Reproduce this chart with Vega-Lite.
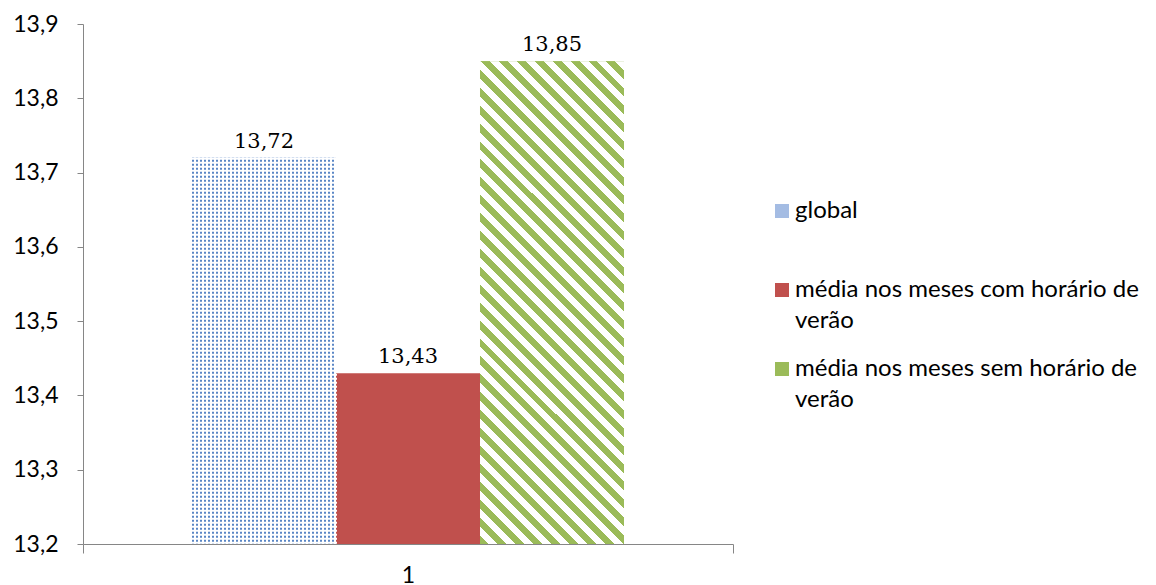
{
  "$schema": "https://vega.github.io/schema/vega-lite/v6.json",
  "width": 650,
  "height": 520,
  "autosize": {"type": "none"},
  "padding": {"left": 83, "top": 24, "right": 423, "bottom": 41},
  "background": "white",
  "config": {
    "view": {"stroke": null},
    "style": {"guide-label": {"lineHeight": 31}},
    "locale": {"number": {"decimal": ",", "thousands": ".", "grouping": [3], "currency": ["", " €"]}}
  },
  "data": {
    "values": [
      {"grupo": "1", "serie": "global", "valor": 13.72},
      {"grupo": "1", "serie": "média nos meses com horário de verão", "valor": 13.43},
      {"grupo": "1", "serie": "média nos meses sem horário de verão", "valor": 13.85}
    ]
  },
  "encoding": {
    "x": {
      "field": "grupo",
      "type": "nominal",
      "scale": {"paddingInner": 0, "paddingOuter": 0},
      "axis": {
        "title": null,
        "labelAngle": 0,
        "tickBand": "extent",
        "domainColor": "#868686",
        "tickColor": "#868686",
        "tickSize": 9,
        "labelPadding": 11,
        "labelFont": "Lato",
        "labelFontSize": 23,
        "labelColor": "black",
        "labelBaseline": "top"
      }
    },
    "xOffset": {
      "field": "serie",
      "type": "nominal",
      "scale": {
        "domain": ["global", "média nos meses com horário de verão", "média nos meses sem horário de verão"],
        "paddingInner": 0,
        "paddingOuter": 0.757
      }
    },
    "y": {
      "field": "valor",
      "type": "quantitative",
      "stack": null,
      "scale": {"domain": [13.2, 13.9], "zero": false, "nice": false},
      "axis": {
        "title": null,
        "values": [13.2, 13.3, 13.4, 13.5, 13.6, 13.7, 13.8, 13.9],
        "format": ".1f",
        "grid": false,
        "domainColor": "#868686",
        "tickColor": "#868686",
        "tickSize": 6,
        "labelPadding": 19,
        "labelFont": "Lato",
        "labelFontSize": 23,
        "labelColor": "black",
        "labelFlush": false,
        "labelOverlap": false
      }
    }
  },
  "layer": [
    {
      "mark": {"type": "bar"},
      "encoding": {
        "y2": {"datum": 13.2},
        "color": {
          "field": "serie",
          "type": "nominal",
          "scale": {
            "domain": ["global", "média nos meses com horário de verão", "média nos meses sem horário de verão"],
            "range": ["#a4bce3", "#c0504d", "#9bbb59"]
          },
          "legend": {
            "title": null,
            "orient": "none",
            "legendX": 687,
            "legendY": 175,
            "direction": "vertical",
            "symbolType": "square",
            "symbolSize": 196,
            "symbolStrokeWidth": 0,
            "labelFont": "Lato",
            "labelFontSize": 24,
            "labelColor": "black",
            "labelLimit": 400,
            "labelOffset": 1,
            "labelBaseline": "middle",
            "rowPadding": 24,
            "gridAlign": "all",
            "padding": 0,
            "labelExpr": "split(replace(datum.label, 'de verão', 'de|verão'), '|')",
            "encode": {"labels": {"lineHeight": {"value": 31}}}
          }
        }
      }
    },
    {
      "transform": [{"filter": "datum.serie === 'global'"}],
      "mark": {
        "type": "bar",
        "fill": {
          "gradient": "linear", "x1": 0, "y1": 0, "x2": 1, "y2": 0,
          "stops": [
            {"offset": 0, "color": "#5a86c5"}, {"offset": 0.0139, "color": "#5a86c5"}, {"offset": 0.0139, "color": "#ffffff"}, {"offset": 0.0278, "color": "#ffffff"},
            {"offset": 0.0278, "color": "#5a86c5"}, {"offset": 0.0417, "color": "#5a86c5"}, {"offset": 0.0417, "color": "#ffffff"}, {"offset": 0.0556, "color": "#ffffff"},
            {"offset": 0.0556, "color": "#5a86c5"}, {"offset": 0.0694, "color": "#5a86c5"}, {"offset": 0.0694, "color": "#ffffff"}, {"offset": 0.0833, "color": "#ffffff"},
            {"offset": 0.0833, "color": "#5a86c5"}, {"offset": 0.0972, "color": "#5a86c5"}, {"offset": 0.0972, "color": "#ffffff"}, {"offset": 0.1111, "color": "#ffffff"},
            {"offset": 0.1111, "color": "#5a86c5"}, {"offset": 0.125, "color": "#5a86c5"}, {"offset": 0.125, "color": "#ffffff"}, {"offset": 0.1389, "color": "#ffffff"},
            {"offset": 0.1389, "color": "#5a86c5"}, {"offset": 0.1528, "color": "#5a86c5"}, {"offset": 0.1528, "color": "#ffffff"}, {"offset": 0.1667, "color": "#ffffff"},
            {"offset": 0.1667, "color": "#5a86c5"}, {"offset": 0.1806, "color": "#5a86c5"}, {"offset": 0.1806, "color": "#ffffff"}, {"offset": 0.1944, "color": "#ffffff"},
            {"offset": 0.1944, "color": "#5a86c5"}, {"offset": 0.2083, "color": "#5a86c5"}, {"offset": 0.2083, "color": "#ffffff"}, {"offset": 0.2222, "color": "#ffffff"},
            {"offset": 0.2222, "color": "#5a86c5"}, {"offset": 0.2361, "color": "#5a86c5"}, {"offset": 0.2361, "color": "#ffffff"}, {"offset": 0.25, "color": "#ffffff"},
            {"offset": 0.25, "color": "#5a86c5"}, {"offset": 0.2639, "color": "#5a86c5"}, {"offset": 0.2639, "color": "#ffffff"}, {"offset": 0.2778, "color": "#ffffff"},
            {"offset": 0.2778, "color": "#5a86c5"}, {"offset": 0.2917, "color": "#5a86c5"}, {"offset": 0.2917, "color": "#ffffff"}, {"offset": 0.3056, "color": "#ffffff"},
            {"offset": 0.3056, "color": "#5a86c5"}, {"offset": 0.3194, "color": "#5a86c5"}, {"offset": 0.3194, "color": "#ffffff"}, {"offset": 0.3333, "color": "#ffffff"},
            {"offset": 0.3333, "color": "#5a86c5"}, {"offset": 0.3472, "color": "#5a86c5"}, {"offset": 0.3472, "color": "#ffffff"}, {"offset": 0.3611, "color": "#ffffff"},
            {"offset": 0.3611, "color": "#5a86c5"}, {"offset": 0.375, "color": "#5a86c5"}, {"offset": 0.375, "color": "#ffffff"}, {"offset": 0.3889, "color": "#ffffff"},
            {"offset": 0.3889, "color": "#5a86c5"}, {"offset": 0.4028, "color": "#5a86c5"}, {"offset": 0.4028, "color": "#ffffff"}, {"offset": 0.4167, "color": "#ffffff"},
            {"offset": 0.4167, "color": "#5a86c5"}, {"offset": 0.4306, "color": "#5a86c5"}, {"offset": 0.4306, "color": "#ffffff"}, {"offset": 0.4444, "color": "#ffffff"},
            {"offset": 0.4444, "color": "#5a86c5"}, {"offset": 0.4583, "color": "#5a86c5"}, {"offset": 0.4583, "color": "#ffffff"}, {"offset": 0.4722, "color": "#ffffff"},
            {"offset": 0.4722, "color": "#5a86c5"}, {"offset": 0.4861, "color": "#5a86c5"}, {"offset": 0.4861, "color": "#ffffff"}, {"offset": 0.5, "color": "#ffffff"},
            {"offset": 0.5, "color": "#5a86c5"}, {"offset": 0.5139, "color": "#5a86c5"}, {"offset": 0.5139, "color": "#ffffff"}, {"offset": 0.5278, "color": "#ffffff"},
            {"offset": 0.5278, "color": "#5a86c5"}, {"offset": 0.5417, "color": "#5a86c5"}, {"offset": 0.5417, "color": "#ffffff"}, {"offset": 0.5556, "color": "#ffffff"},
            {"offset": 0.5556, "color": "#5a86c5"}, {"offset": 0.5694, "color": "#5a86c5"}, {"offset": 0.5694, "color": "#ffffff"}, {"offset": 0.5833, "color": "#ffffff"},
            {"offset": 0.5833, "color": "#5a86c5"}, {"offset": 0.5972, "color": "#5a86c5"}, {"offset": 0.5972, "color": "#ffffff"}, {"offset": 0.6111, "color": "#ffffff"},
            {"offset": 0.6111, "color": "#5a86c5"}, {"offset": 0.625, "color": "#5a86c5"}, {"offset": 0.625, "color": "#ffffff"}, {"offset": 0.6389, "color": "#ffffff"},
            {"offset": 0.6389, "color": "#5a86c5"}, {"offset": 0.6528, "color": "#5a86c5"}, {"offset": 0.6528, "color": "#ffffff"}, {"offset": 0.6667, "color": "#ffffff"},
            {"offset": 0.6667, "color": "#5a86c5"}, {"offset": 0.6806, "color": "#5a86c5"}, {"offset": 0.6806, "color": "#ffffff"}, {"offset": 0.6944, "color": "#ffffff"},
            {"offset": 0.6944, "color": "#5a86c5"}, {"offset": 0.7083, "color": "#5a86c5"}, {"offset": 0.7083, "color": "#ffffff"}, {"offset": 0.7222, "color": "#ffffff"},
            {"offset": 0.7222, "color": "#5a86c5"}, {"offset": 0.7361, "color": "#5a86c5"}, {"offset": 0.7361, "color": "#ffffff"}, {"offset": 0.75, "color": "#ffffff"},
            {"offset": 0.75, "color": "#5a86c5"}, {"offset": 0.7639, "color": "#5a86c5"}, {"offset": 0.7639, "color": "#ffffff"}, {"offset": 0.7778, "color": "#ffffff"},
            {"offset": 0.7778, "color": "#5a86c5"}, {"offset": 0.7917, "color": "#5a86c5"}, {"offset": 0.7917, "color": "#ffffff"}, {"offset": 0.8056, "color": "#ffffff"},
            {"offset": 0.8056, "color": "#5a86c5"}, {"offset": 0.8194, "color": "#5a86c5"}, {"offset": 0.8194, "color": "#ffffff"}, {"offset": 0.8333, "color": "#ffffff"},
            {"offset": 0.8333, "color": "#5a86c5"}, {"offset": 0.8472, "color": "#5a86c5"}, {"offset": 0.8472, "color": "#ffffff"}, {"offset": 0.8611, "color": "#ffffff"},
            {"offset": 0.8611, "color": "#5a86c5"}, {"offset": 0.875, "color": "#5a86c5"}, {"offset": 0.875, "color": "#ffffff"}, {"offset": 0.8889, "color": "#ffffff"},
            {"offset": 0.8889, "color": "#5a86c5"}, {"offset": 0.9028, "color": "#5a86c5"}, {"offset": 0.9028, "color": "#ffffff"}, {"offset": 0.9167, "color": "#ffffff"},
            {"offset": 0.9167, "color": "#5a86c5"}, {"offset": 0.9306, "color": "#5a86c5"}, {"offset": 0.9306, "color": "#ffffff"}, {"offset": 0.9444, "color": "#ffffff"},
            {"offset": 0.9444, "color": "#5a86c5"}, {"offset": 0.9583, "color": "#5a86c5"}, {"offset": 0.9583, "color": "#ffffff"}, {"offset": 0.9722, "color": "#ffffff"},
            {"offset": 0.9722, "color": "#5a86c5"}, {"offset": 0.9861, "color": "#5a86c5"}, {"offset": 0.9861, "color": "#ffffff"}, {"offset": 1, "color": "#ffffff"}
          ]
        }
      },
      "encoding": {"y2": {"datum": 13.2}}
    },
    {
      "transform": [{"filter": "datum.serie === 'global'"}],
      "mark": {"type": "rule", "stroke": "#ffffff", "strokeWidth": 146, "strokeDash": [2, 2], "strokeCap": "butt"},
      "encoding": {"y2": {"datum": 13.2}}
    },
    {
      "transform": [{"filter": "datum.serie === 'média nos meses sem horário de verão'"}],
      "mark": {
        "type": "bar",
        "fill": {
          "gradient": "linear", "x1": 0, "y1": 1, "x2": 0.3554, "y2": -0.1922,
          "stops": [
            {"offset": 0, "color": "#9bbb59"}, {"offset": 0.0143, "color": "#9bbb59"}, {"offset": 0.0143, "color": "#ffffff"}, {"offset": 0.0286, "color": "#ffffff"},
            {"offset": 0.0286, "color": "#9bbb59"}, {"offset": 0.0429, "color": "#9bbb59"}, {"offset": 0.0429, "color": "#ffffff"}, {"offset": 0.0571, "color": "#ffffff"},
            {"offset": 0.0571, "color": "#9bbb59"}, {"offset": 0.0714, "color": "#9bbb59"}, {"offset": 0.0714, "color": "#ffffff"}, {"offset": 0.0857, "color": "#ffffff"},
            {"offset": 0.0857, "color": "#9bbb59"}, {"offset": 0.1, "color": "#9bbb59"}, {"offset": 0.1, "color": "#ffffff"}, {"offset": 0.1143, "color": "#ffffff"},
            {"offset": 0.1143, "color": "#9bbb59"}, {"offset": 0.1286, "color": "#9bbb59"}, {"offset": 0.1286, "color": "#ffffff"}, {"offset": 0.1429, "color": "#ffffff"},
            {"offset": 0.1429, "color": "#9bbb59"}, {"offset": 0.1571, "color": "#9bbb59"}, {"offset": 0.1571, "color": "#ffffff"}, {"offset": 0.1714, "color": "#ffffff"},
            {"offset": 0.1714, "color": "#9bbb59"}, {"offset": 0.1857, "color": "#9bbb59"}, {"offset": 0.1857, "color": "#ffffff"}, {"offset": 0.2, "color": "#ffffff"},
            {"offset": 0.2, "color": "#9bbb59"}, {"offset": 0.2143, "color": "#9bbb59"}, {"offset": 0.2143, "color": "#ffffff"}, {"offset": 0.2286, "color": "#ffffff"},
            {"offset": 0.2286, "color": "#9bbb59"}, {"offset": 0.2429, "color": "#9bbb59"}, {"offset": 0.2429, "color": "#ffffff"}, {"offset": 0.2571, "color": "#ffffff"},
            {"offset": 0.2571, "color": "#9bbb59"}, {"offset": 0.2714, "color": "#9bbb59"}, {"offset": 0.2714, "color": "#ffffff"}, {"offset": 0.2857, "color": "#ffffff"},
            {"offset": 0.2857, "color": "#9bbb59"}, {"offset": 0.3, "color": "#9bbb59"}, {"offset": 0.3, "color": "#ffffff"}, {"offset": 0.3143, "color": "#ffffff"},
            {"offset": 0.3143, "color": "#9bbb59"}, {"offset": 0.3286, "color": "#9bbb59"}, {"offset": 0.3286, "color": "#ffffff"}, {"offset": 0.3429, "color": "#ffffff"},
            {"offset": 0.3429, "color": "#9bbb59"}, {"offset": 0.3571, "color": "#9bbb59"}, {"offset": 0.3571, "color": "#ffffff"}, {"offset": 0.3714, "color": "#ffffff"},
            {"offset": 0.3714, "color": "#9bbb59"}, {"offset": 0.3857, "color": "#9bbb59"}, {"offset": 0.3857, "color": "#ffffff"}, {"offset": 0.4, "color": "#ffffff"},
            {"offset": 0.4, "color": "#9bbb59"}, {"offset": 0.4143, "color": "#9bbb59"}, {"offset": 0.4143, "color": "#ffffff"}, {"offset": 0.4286, "color": "#ffffff"},
            {"offset": 0.4286, "color": "#9bbb59"}, {"offset": 0.4429, "color": "#9bbb59"}, {"offset": 0.4429, "color": "#ffffff"}, {"offset": 0.4571, "color": "#ffffff"},
            {"offset": 0.4571, "color": "#9bbb59"}, {"offset": 0.4714, "color": "#9bbb59"}, {"offset": 0.4714, "color": "#ffffff"}, {"offset": 0.4857, "color": "#ffffff"},
            {"offset": 0.4857, "color": "#9bbb59"}, {"offset": 0.5, "color": "#9bbb59"}, {"offset": 0.5, "color": "#ffffff"}, {"offset": 0.5143, "color": "#ffffff"},
            {"offset": 0.5143, "color": "#9bbb59"}, {"offset": 0.5286, "color": "#9bbb59"}, {"offset": 0.5286, "color": "#ffffff"}, {"offset": 0.5429, "color": "#ffffff"},
            {"offset": 0.5429, "color": "#9bbb59"}, {"offset": 0.5571, "color": "#9bbb59"}, {"offset": 0.5571, "color": "#ffffff"}, {"offset": 0.5714, "color": "#ffffff"},
            {"offset": 0.5714, "color": "#9bbb59"}, {"offset": 0.5857, "color": "#9bbb59"}, {"offset": 0.5857, "color": "#ffffff"}, {"offset": 0.6, "color": "#ffffff"},
            {"offset": 0.6, "color": "#9bbb59"}, {"offset": 0.6143, "color": "#9bbb59"}, {"offset": 0.6143, "color": "#ffffff"}, {"offset": 0.6286, "color": "#ffffff"},
            {"offset": 0.6286, "color": "#9bbb59"}, {"offset": 0.6429, "color": "#9bbb59"}, {"offset": 0.6429, "color": "#ffffff"}, {"offset": 0.6571, "color": "#ffffff"},
            {"offset": 0.6571, "color": "#9bbb59"}, {"offset": 0.6714, "color": "#9bbb59"}, {"offset": 0.6714, "color": "#ffffff"}, {"offset": 0.6857, "color": "#ffffff"},
            {"offset": 0.6857, "color": "#9bbb59"}, {"offset": 0.7, "color": "#9bbb59"}, {"offset": 0.7, "color": "#ffffff"}, {"offset": 0.7143, "color": "#ffffff"},
            {"offset": 0.7143, "color": "#9bbb59"}, {"offset": 0.7286, "color": "#9bbb59"}, {"offset": 0.7286, "color": "#ffffff"}, {"offset": 0.7429, "color": "#ffffff"},
            {"offset": 0.7429, "color": "#9bbb59"}, {"offset": 0.7571, "color": "#9bbb59"}, {"offset": 0.7571, "color": "#ffffff"}, {"offset": 0.7714, "color": "#ffffff"},
            {"offset": 0.7714, "color": "#9bbb59"}, {"offset": 0.7857, "color": "#9bbb59"}, {"offset": 0.7857, "color": "#ffffff"}, {"offset": 0.8, "color": "#ffffff"},
            {"offset": 0.8, "color": "#9bbb59"}, {"offset": 0.8143, "color": "#9bbb59"}, {"offset": 0.8143, "color": "#ffffff"}, {"offset": 0.8286, "color": "#ffffff"},
            {"offset": 0.8286, "color": "#9bbb59"}, {"offset": 0.8429, "color": "#9bbb59"}, {"offset": 0.8429, "color": "#ffffff"}, {"offset": 0.8571, "color": "#ffffff"},
            {"offset": 0.8571, "color": "#9bbb59"}, {"offset": 0.8714, "color": "#9bbb59"}, {"offset": 0.8714, "color": "#ffffff"}, {"offset": 0.8857, "color": "#ffffff"},
            {"offset": 0.8857, "color": "#9bbb59"}, {"offset": 0.9, "color": "#9bbb59"}, {"offset": 0.9, "color": "#ffffff"}, {"offset": 0.9143, "color": "#ffffff"},
            {"offset": 0.9143, "color": "#9bbb59"}, {"offset": 0.9286, "color": "#9bbb59"}, {"offset": 0.9286, "color": "#ffffff"}, {"offset": 0.9429, "color": "#ffffff"},
            {"offset": 0.9429, "color": "#9bbb59"}, {"offset": 0.9571, "color": "#9bbb59"}, {"offset": 0.9571, "color": "#ffffff"}, {"offset": 0.9714, "color": "#ffffff"},
            {"offset": 0.9714, "color": "#9bbb59"}, {"offset": 0.9857, "color": "#9bbb59"}, {"offset": 0.9857, "color": "#ffffff"}, {"offset": 1, "color": "#ffffff"}
          ]
        }
      },
      "encoding": {"y2": {"datum": 13.2}}
    },
    {
      "mark": {"type": "text", "dy": -10, "baseline": "alphabetic", "font": "DejaVu Serif", "fontSize": 21, "color": "black"},
      "encoding": {"text": {"field": "valor", "type": "quantitative", "format": ".2f"}}
    }
  ]
}
